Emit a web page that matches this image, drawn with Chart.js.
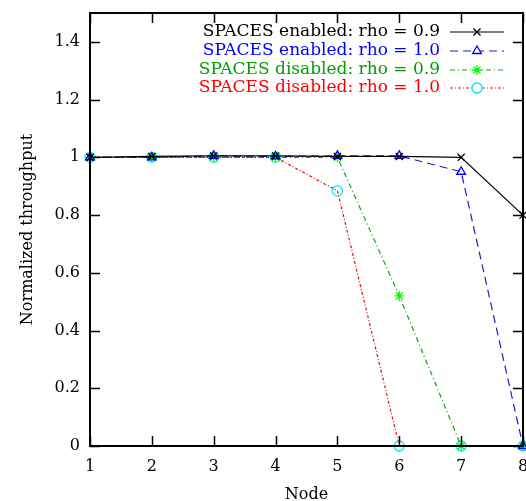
<!DOCTYPE html>
<html>
<head>
<meta charset="utf-8">
<script src="https://cdn.jsdelivr.net/npm/chart.js@4/dist/chart.umd.min.js"></script>
<style>
  html, body { margin: 0; padding: 0; background: #fff; }
  #wrap { width: 526px; height: 501px; }
</style>
</head>
<body>
<div id="wrap"><canvas id="line_1" width="526" height="501"></canvas></div>
<script>
// data
const nodes = [1, 2, 3, 4, 5, 6, 7, 8];
const enabled09 = [1.0, 1.003, 1.005, 1.005, 1.003, 1.003, 1.0, 0.8];
const enabled10 = [1.0, 1.0, 1.005, 1.003, 1.005, 1.005, 0.95, 0.0];
const disabled09 = [1.0, 1.0, 1.0, 1.0, 1.0, 0.52, 0.0, 0.0];
const disabled10 = [1.0, 1.0, 1.0, 1.0, 0.884, 0.0, 0.0, 0.0];
const seriesLabels = [
    'SPACES enabled: rho = 0.9',
    'SPACES enabled: rho = 1.0',
    'SPACES disabled: rho = 0.9',
    'SPACES disabled: rho = 1.0'
];
const yTicks = [0, 0.2, 0.4, 0.6, 0.8, 1.0, 1.2, 1.4];

const FONT = '"DejaVu Serif", "Liberation Serif", serif';

function pts(vals) {
    return nodes.map((n, i) => ({ x: n, y: vals[i] }));
}

// ticks drawn inside the frame, mirrored on the right and on top
const frameTicks = {
    id: 'frameTicks',
    afterDraw(chart) {
        const ctx = chart.ctx;
        const a = chart.chartArea;
        const xs = chart.scales.x, ys = chart.scales.y;
        const len = 10;
        ctx.save();
        ctx.strokeStyle = '#000';
        ctx.lineWidth = 1.5;
        ctx.beginPath();
        yTicks.forEach(v => {
            const py = Math.round(ys.getPixelForValue(v)) + 0.5;
            ctx.moveTo(a.left, py); ctx.lineTo(a.left + len, py);
            ctx.moveTo(a.right, py); ctx.lineTo(a.right - len, py);
        });
        nodes.forEach(v => {
            const px = Math.round(xs.getPixelForValue(v)) + 0.5;
            ctx.moveTo(px, a.bottom); ctx.lineTo(px, a.bottom - len);
            ctx.moveTo(px, a.top); ctx.lineTo(px, a.top + len);
        });
        ctx.stroke();
        ctx.lineWidth = 2;
        ctx.strokeRect(a.left, a.top, a.right - a.left, a.bottom - a.top);
        ctx.restore();
    }
};

// legend: right aligned text, sample line on the right
const sideLegend = {
    id: 'sideLegend',
    afterDraw(chart) {
        const ctx = chart.ctx;
        const textRight = 440;
        const lx0 = 450, lx1 = 504;
        const rows = [32, 51, 70, 88];
        ctx.save();
        ctx.font = '17px ' + FONT;
        ctx.textAlign = 'right';
        ctx.textBaseline = 'middle';
        chart.data.datasets.forEach((ds, i) => {
            const y = rows[i];
            ctx.fillStyle = ds.labelColor;
            ctx.fillText(ds.label, textRight, y);
            ctx.strokeStyle = ds.borderColor;
            ctx.lineWidth = 1.2;
            ctx.setLineDash(ds.borderDash || []);
            ctx.beginPath();
            ctx.moveTo(lx0, y); ctx.lineTo(lx1, y);
            ctx.stroke();
            ctx.setLineDash([]);
            ctx.strokeStyle = ds.pointBorderColor;
            ctx.fillStyle = '#fff';
            ctx.lineWidth = 1.3;
            Chart.helpers.drawPoint(ctx, {
                pointStyle: ds.pointStyle, rotation: 0,
                radius: ds.pointRadius, borderWidth: 1.3
            }, (lx0 + lx1) / 2, y);
        });
        ctx.restore();
    }
};

const chart_1 = new Chart(document.getElementById('line_1').getContext('2d'), {
    type: 'line',
    data: {
        datasets: [
            {
                label: seriesLabels[0], data: pts(enabled09),
                borderColor: '#000', labelColor: '#000',
                pointStyle: 'crossRot', pointBorderColor: '#000'
            },
            {
                label: seriesLabels[1], data: pts(enabled10),
                borderColor: '#1c1cc8', labelColor: '#0000ff',
                borderDash: [8, 5],
                pointStyle: 'triangle', pointBorderColor: '#0000ff'
            },
            {
                label: seriesLabels[2], data: pts(disabled09),
                borderColor: '#12a012', labelColor: '#00a000',
                borderDash: [5, 3, 1, 3],
                pointStyle: 'star', pointBorderColor: '#00ff00'
            },
            {
                label: seriesLabels[3], data: pts(disabled10),
                borderColor: '#e01010', labelColor: '#ff0000',
                borderDash: [3, 2, 1, 2],
                pointStyle: 'circle', pointBorderColor: '#00e8ff'
            }
        ].map(ds => Object.assign({
            borderWidth: 1.2,
            pointRadius: 5,
            pointBorderWidth: 1.3,
            pointBackgroundColor: 'rgba(0,0,0,0)',
            tension: 0,
            fill: false,
            clip: false
        }, ds))
    },
    options: {
        responsive: false,
        animation: false,
        layout: { autoPadding: false, padding: { top: 13, right: 3, left: 0, bottom: 0 } },
        plugins: { legend: { display: false }, tooltip: { enabled: false } },
        scales: {
            x: {
                type: 'linear', min: 1, max: 8,
                grid: { display: false, drawTicks: false },
                border: { display: false },
                afterBuildTicks: s => { s.ticks = nodes.map(v => ({ value: v })); },
                afterFit: s => { s.height = 55; s.paddingLeft = 0; s.paddingRight = 0; },
                ticks: {
                    color: '#000', padding: 11, maxRotation: 0,
                    font: { family: FONT, size: 16 },
                    callback: v => String(v)
                },
                title: {
                    display: true, text: 'Node', color: '#000',
                    font: { family: FONT, size: 16 }, padding: { top: 0, bottom: -3 }
                }
            },
            y: {
                type: 'linear', min: 0, max: 1.5,
                grid: { display: false, drawTicks: false },
                border: { display: false },
                afterBuildTicks: s => { s.ticks = yTicks.map(v => ({ value: v })); },
                afterFit: s => { s.width = 90; s.paddingTop = 0; s.paddingBottom = 0; },
                ticks: {
                    color: '#000', padding: 10,
                    font: { family: FONT, size: 16 },
                    callback: v => String(+v.toFixed(1))
                },
                title: {
                    display: true, text: 'Normalized throughput', color: '#000',
                    font: { family: FONT, size: 16 }, padding: { top: 18, bottom: 10 }
                }
            }
        }
    },
    plugins: [frameTicks, sideLegend]
});
</script>
</body>
</html>
